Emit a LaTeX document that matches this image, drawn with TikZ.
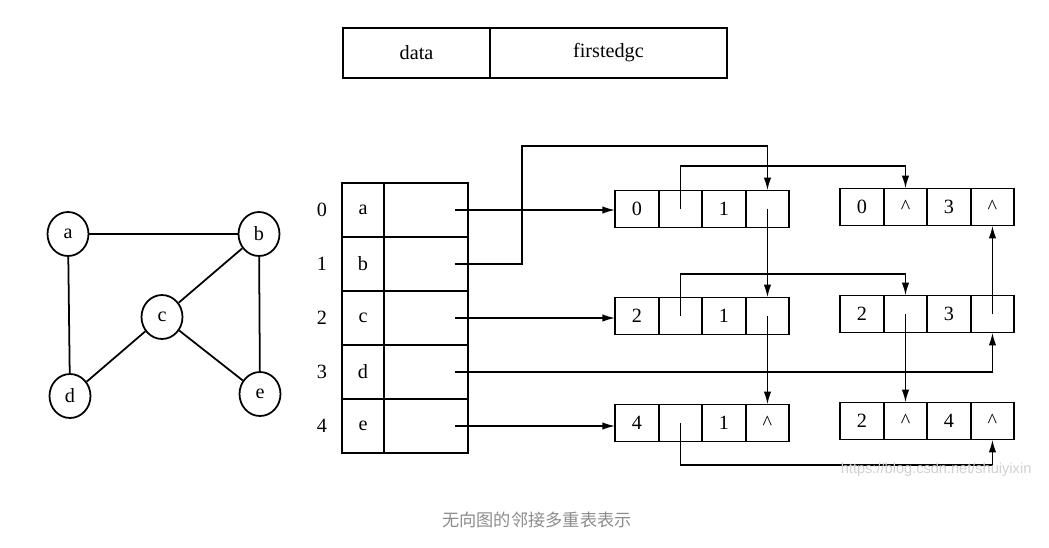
\documentclass[tikz,border=0pt]{standalone}
\usepackage{fontspec}
\setmainfont{Liberation Serif}
\setsansfont{Liberation Sans}
\newfontfamily\cjk{Noto Sans CJK SC}
\usetikzlibrary{positioning,arrows.meta,shapes.geometric}
\newcommand{\nil}{\textasciicircum}
\newcommand{\edgenode}[7]{%
	\node[cell] (#1a) at (#2,#3) {#4};
	\node[cell,right=0pt of #1a] (#1b) {#5};
	\node[cell,right=0pt of #1b] (#1c) {#6};
	\node[cell,right=0pt of #1c] (#1d) {#7};
}

\begin{document}
\begin{tikzpicture}[x=0.02cm,y=-0.02cm,line width=1pt,
		font=\fontsize{11.5pt}{13pt}\selectfont,
		box/.style={draw,inner sep=0pt,outer sep=0pt,minimum height=1cm},
		vcell/.style={draw,inner sep=0pt,outer sep=0pt,minimum width=0.84cm,minimum height=1.08cm},
		pcell/.style={draw,inner sep=0pt,outer sep=0pt,minimum width=1.68cm,minimum height=1.08cm},
		cell/.style={draw,inner sep=0pt,outer sep=0pt,minimum width=0.87cm,minimum height=0.74cm},
		vertex/.style={draw,ellipse,inner sep=0pt,minimum width=0.82cm,minimum height=0.88cm},
		ptr/.style={-{Latex[length=2.6mm,width=1.5mm]}}]
	\useasboundingbox (0,0) rectangle (1049,548);
	\node[box,minimum width=2.94cm] (data) at (416.5,53) {data};
	\node[box,minimum width=4.74cm,right=0pt of data] (first) {firstedgc};
	\node[vertex] (a) at (68,234) {a};
	\node[vertex] (b) at (259,234) {b};
	\node[vertex] (c) at (162,317) {c};
	\node[vertex] (d) at (70,396) {d};
	\node[vertex] (e) at (260,394) {e};
	\draw (a) -- (b);
	\draw (a) -- (d);
	\draw (b) -- (c);
	\draw (b) -- (e);
	\draw (c) -- (d);
	\draw (c) -- (e);
	\foreach \t [count=\i from 0] in {a,b,c,d,e} {
		\node (n\i) at (322,210+54*\i) {\i};
		\node[vcell] (v\i) at (363,210+54*\i) {\t};
		\node[pcell,right=0pt of v\i] (p\i) {};
		\coordinate (s\i) at ([xshift=-0.26cm]p\i.east);
	}
	\edgenode{E0}{637}{209}{0}{}{1}{}
	\edgenode{E1}{862}{207}{0}{\nil}{3}{\nil}
	\edgenode{E2}{637}{316}{2}{}{1}{}
	\edgenode{E3}{862}{314}{2}{}{3}{}
	\edgenode{E4}{637}{423}{4}{}{1}{\nil}
	\edgenode{E5}{862}{421}{2}{\nil}{4}{\nil}
	\coordinate (bend) at (522,146);
	\draw[ptr] (s0) -- (s0 -| E0a.west);
	\draw[ptr] (s1) -| (bend) -| (E0d.north);
	\draw[ptr] (s2) -- (s2 -| E2a.west);
	\draw[ptr] (s3) -| (E3d.south);
	\draw[ptr] (s4) -- (s4 -| E4a.west);
	\draw[ptr] (E0b.center) -- ++(0,-43) -| (E1b.north);
	\draw[ptr] (E0d.center) -- (E2d.north);
	\draw[ptr] (E2b.center) -- ++(0,-42) -| (E3b.north);
	\draw[ptr] (E2d.center) -- (E4d.north);
	\draw[ptr] (E3b.center) -- (E5b.north);
	\draw[ptr] (E3d.center) -- (E1d.south);
	\draw[ptr] (E4b.center) -- ++(0,42) -| (E5d.south);
	\node[anchor=west,inner sep=0pt,text=black!18,font=\sffamily\fontsize{8.3pt}{10pt}\selectfont] (wm) at (840,470) {https://blog.csdn.net/shuiyixin};
	\node[text=black!45,font=\cjk\fontsize{9.8pt}{12pt}\selectfont] (cap) at (537,520) {无向图的邻接多重表表示};
\end{tikzpicture}
\end{document}
